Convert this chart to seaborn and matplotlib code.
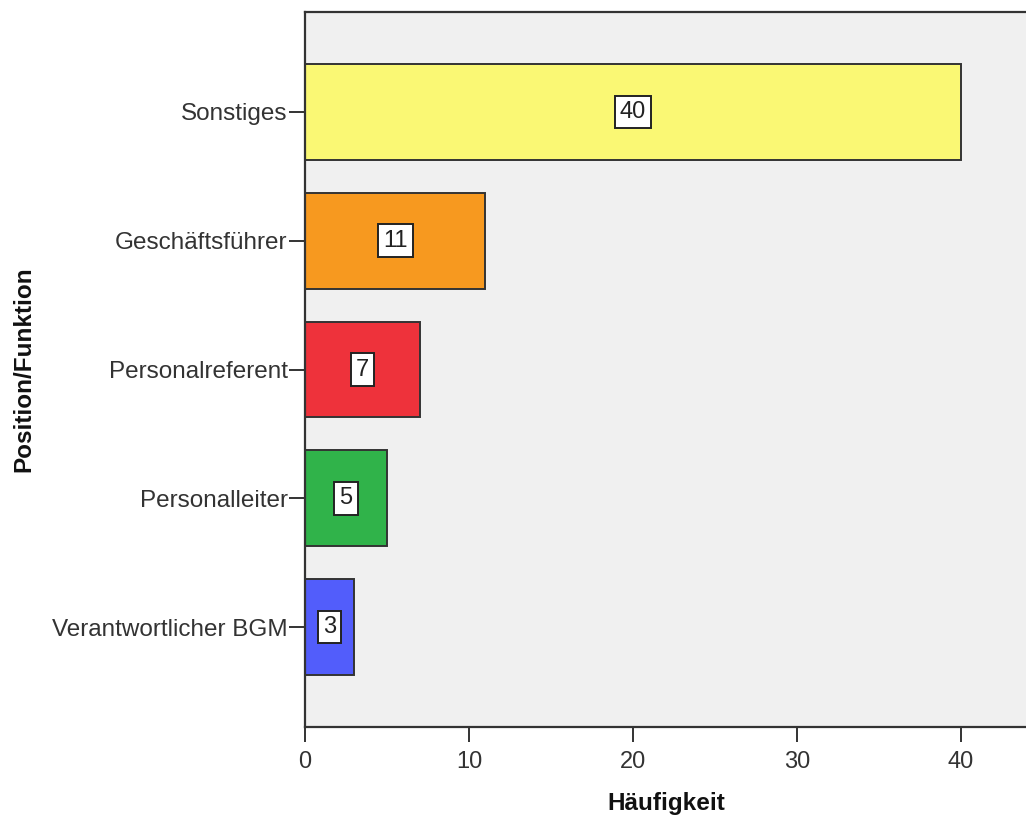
import matplotlib
matplotlib.use("Agg")
import matplotlib.pyplot as plt
import seaborn as sns
import pandas as pd

categories = ["Sonstiges", "Geschäftsführer", "Personalreferent", "Personalleiter", "Verantwortlicher BGM"]
counts = [40, 11, 7, 5, 3]
bar_colors = ["#FAF874", "#F7991F", "#EE323B", "#30B34A", "#525DFB"]
x_ticks = [0, 10, 20, 30, 40]

sns.set_theme(style="white")
plt.rcParams["font.family"] = ["Liberation Sans", "DejaVu Sans"]

df = pd.DataFrame({"Position/Funktion": categories, "Häufigkeit": counts})

fig = plt.figure(figsize=(10.26, 8.16), dpi=100)
ax = fig.add_axes([305 / 1026, 89 / 816, 721.6 / 1026, 715 / 816])
ax.set_facecolor("#F0F0F0")

sns.barplot(
    data=df, y="Position/Funktion", x="Häufigkeit", hue="Position/Funktion",
    palette=bar_colors, orient="h", width=0.745, edgecolor="#333333",
    linewidth=1.4, legend=False, ax=ax, saturation=1,
)

# value boxes in the middle of each bar
for i, v in enumerate(counts):
    ax.text(v / 2, i, str(v), ha="center", va="center", fontsize=17, color="#222222",
            bbox=dict(boxstyle="square,pad=0.22", facecolor="white", edgecolor="#222222", linewidth=1.4))

ax.set_xlim(0, 44)
ax.set_ylim(4.775, -0.775)
ax.set_xticks(x_ticks)

for side in ["top", "left", "bottom"]:
    ax.spines[side].set_visible(True)
    ax.spines[side].set_color("#333333")
    ax.spines[side].set_linewidth(1.6)
ax.spines["right"].set_visible(False)

ax.tick_params(axis="x", length=11, width=1.4, color="#333333", pad=6, labelsize=17, labelcolor="#333333")
ax.tick_params(axis="y", length=11.5, width=1.4, color="#333333", pad=1, labelsize=17.5, labelcolor="#333333")
ax.tick_params(bottom=True, left=True)

ax.set_xlabel("Häufigkeit", fontsize=17.5, fontweight="bold", color="#111111", labelpad=14)
ax.set_ylabel("Position/Funktion", fontsize=17.5, fontweight="bold", color="#111111", labelpad=12)

fig.savefig("out.png", dpi=100)
